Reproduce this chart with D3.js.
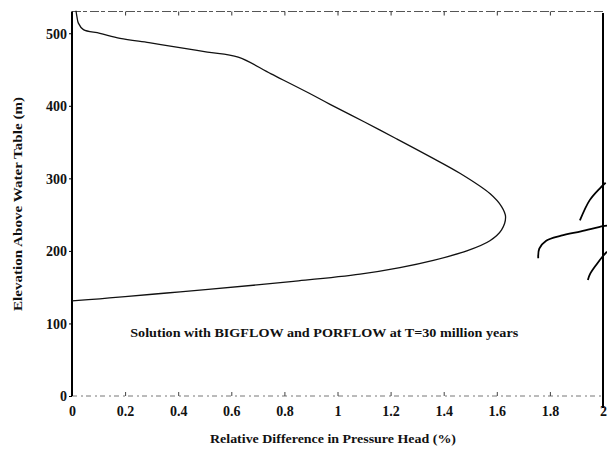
<!DOCTYPE html>
<html>
<head>
<meta charset="utf-8">
<script src="https://cdn.jsdelivr.net/npm/d3@7/dist/d3.min.js"></script>
<style>
  body { margin: 0; background: #fff; }
  svg { display: block; }
  text { font-family: "Liberation Serif", "DejaVu Serif", serif; fill: #111; }
</style>
</head>
<body>
<svg id="chart" width="607" height="452"></svg>
<script>
// relative difference (%) vs elevation (m)
const diffValues = [0.015, 0.019, 0.024, 0.043, 0.105, 0.181, 0.29, 0.394, 0.51, 0.626,
  0.75, 0.89, 0.972, 1.1, 1.22, 1.348, 1.461, 1.574, 1.618, 1.633,
  1.618, 1.574, 1.487, 1.361, 1.235, 1.085, 0.834, 0.513, 0.357, 0.2, 0.105, 0];
const elevValues = [531, 522, 514, 505, 500, 493, 487, 481, 474, 467,
  444, 418, 402, 378, 355, 330, 307, 279, 261, 247,
  229, 214, 200, 187, 177, 168, 158, 147, 142, 137, 134, 131];

// fragments of the neighbouring figure that show at the right edge
const strayA = { x: [1.913, 1.95, 1.99, 2.01], y: [242, 270, 287, 294] };
const strayB = { x: [1.756, 1.76, 1.786, 1.842, 1.917, 2.0, 2.015], y: [190, 203, 214, 221, 227, 234, 235] };
const strayC = { x: [1.943, 1.951, 1.977, 2.0, 2.015], y: [160, 168, 182, 193, 199] };

const xTicks = [0, 0.2, 0.4, 0.6, 0.8, 1, 1.2, 1.4, 1.6, 1.8, 2];
const xTickLabels = ["0", "0.2", "0.4", "0.6", "0.8", "1", "1.2", "1.4", "1.6", "1.8", "2"];
const yTicks = [0, 100, 200, 300, 400, 500];
const yTickLabels = ["0", "100", "200", "300", "400", "500"];

const svg = d3.select("#chart");
const margin = { top: 11.5, bottom: 56, left: 72, right: 4 };
const width = +svg.attr("width");
const height = +svg.attr("height");

const x = d3.scaleLinear().domain([0, 2]).range([margin.left, width - margin.right]);
const y = d3.scaleLinear().domain([0, 530]).range([height - margin.bottom, margin.top]);

// frame: top and bottom are faint broken lines, sides solid
svg.append("line")
  .attr("x1", x(0)).attr("x2", x(2)).attr("y1", y(530)).attr("y2", y(530))
  .attr("stroke", "#555").attr("stroke-width", 1.2).attr("stroke-dasharray", "9,2,4,3");
svg.append("line")
  .attr("x1", x(0)).attr("x2", x(2)).attr("y1", y(0)).attr("y2", y(0))
  .attr("stroke", "#777").attr("stroke-width", 1).attr("stroke-dasharray", "5,4,2,3");

const gx = svg.append("g")
  .attr("transform", `translate(0,${y(0)})`)
  .call(d3.axisBottom(x).tickValues(xTicks).tickSize(-4).tickPadding(10)
    .tickFormat((d, i) => xTickLabels[i]));
gx.select(".domain").remove();
gx.selectAll(".tick line").attr("stroke", "#444");
gx.selectAll(".tick text").attr("font-size", 14).attr("font-family", "Liberation Serif").attr("font-weight", "bold");

const gTop = svg.append("g")
  .attr("transform", `translate(0,${y(530)})`)
  .call(d3.axisTop(x).tickValues(xTicks.slice(1, -1)).tickSize(-4).tickFormat(""));
gTop.select(".domain").remove();
gTop.selectAll(".tick line").attr("stroke", "#333");

const gy = svg.append("g")
  .attr("transform", `translate(${x(0)},0)`)
  .call(d3.axisLeft(y).tickValues(yTicks).tickSize(3).tickPadding(2)
    .tickFormat((d, i) => yTickLabels[i]));
gy.select(".domain").remove();
gy.selectAll(".tick text").attr("font-size", 14).attr("font-family", "Liberation Serif").attr("font-weight", "bold").attr("dy", "0.35em");

svg.append("line")
  .attr("x1", x(0)).attr("x2", x(0)).attr("y1", y(530)).attr("y2", y(0))
  .attr("stroke", "#000").attr("stroke-width", 2);
svg.append("line")
  .attr("x1", x(2)).attr("x2", x(2)).attr("y1", y(528)).attr("y2", y(0) + 12)
  .attr("stroke", "#000").attr("stroke-width", 2);

const line = d3.line()
  .x(d => x(d[0]))
  .y(d => y(d[1]))
  .curve(d3.curveCatmullRom.alpha(0.5));

// main curve
svg.append("path")
  .datum(d3.zip(diffValues, elevValues))
  .attr("fill", "none")
  .attr("stroke", "#111")
  .attr("stroke-width", 1.3)
  .attr("d", line);

[strayA, strayB, strayC].forEach(s => {
  svg.append("path")
    .datum(d3.zip(s.x, s.y))
    .attr("fill", "none")
    .attr("stroke", "#000")
    .attr("stroke-width", 1.8)
    .attr("d", line);
});

// annotation
svg.append("text")
  .attr("x", x(0.95)).attr("y", y(81))
  .attr("text-anchor", "middle")
  .attr("font-size", 13).attr("font-weight", "bold")
  .attr("textLength", 388).attr("lengthAdjust", "spacingAndGlyphs")
  .text("Solution with BIGFLOW and PORFLOW at T=30 million years");

// axis titles
svg.append("text")
  .attr("x", 333).attr("y", 443)
  .attr("text-anchor", "middle")
  .attr("font-size", 12.5).attr("font-weight", "bold")
  .attr("textLength", 246).attr("lengthAdjust", "spacingAndGlyphs")
  .text("Relative Difference in Pressure Head (%)");

svg.append("text")
  .attr("transform", `translate(22,${204}) rotate(-90)`)
  .attr("text-anchor", "middle")
  .attr("font-size", 13.5).attr("font-weight", "bold")
  .attr("textLength", 214).attr("lengthAdjust", "spacingAndGlyphs")
  .text("Elevation Above Water Table (m)");
</script>
</body>
</html>
